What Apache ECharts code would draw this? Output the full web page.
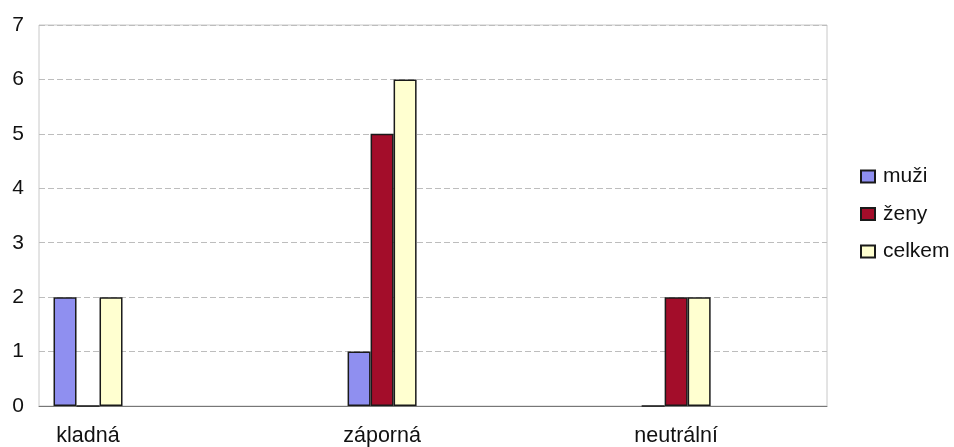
<!DOCTYPE html>
<html>
<head>
<meta charset="utf-8">
<script src="https://cdn.jsdelivr.net/npm/echarts@6/dist/echarts.min.js"></script>
<style>
  html, body { margin: 0; padding: 0; background: #fff; }
  #chart { width: 954px; height: 447px; }
</style>
</head>
<body>
<div id="chart"></div>
<script>
// Postoj respondentů podle pohlaví
const categories = ['kladná', 'záporná', 'neutrální'];
const seriesNames = ['muži', 'ženy', 'celkem'];
const muzi = [2, 1, 0];
const zeny = [0, 5, 2];
const celkem = [2, 6, 2];
const yTicks = [0, 1, 2, 3, 4, 5, 6, 7];

const colors = ['#8f8ff0', '#a30d2a', '#ffffd0'];
const font = 'Liberation Sans, Arial, sans-serif';

// bars sit on a numeric x scale: category i is drawn at x = i
function toPoints(values) {
  return values.map((v, i) => [i, v]);
}

const chart = echarts.init(document.getElementById('chart'));
chart.setOption({
  animation: false,
  backgroundColor: '#ffffff',
  grid: {
    left: 39, right: 127, top: 25, bottom: 41,
    show: true, borderColor: '#c8c8c8', borderWidth: 1
  },
  legend: {
    orient: 'vertical',
    left: 855, top: 161,
    itemWidth: 14, itemHeight: 12,
    itemGap: 16.5,
    icon: 'rect',
    textStyle: { fontFamily: font, fontSize: 21, color: '#111', lineHeight: 21, padding: [0, 0, 0, 3] },
    data: seriesNames
  },
  xAxis: {
    type: 'value',
    min: -0.1667,
    max: 2.513,
    splitLine: { show: false },
    axisLine: { show: true, lineStyle: { color: '#777', width: 1 } },
    axisTick: { show: false },
    axisLabel: {
      customValues: categories.map((c, i) => i),
      formatter: v => categories[Math.round(v)] || '',
      fontFamily: font, fontSize: 21.5, color: '#111', margin: 19
    }
  },
  yAxis: {
    type: 'value',
    min: yTicks[0],
    max: yTicks[yTicks.length - 1],
    interval: 1,
    axisLine: { show: false, onZero: false },
    axisTick: { show: false },
    axisLabel: { fontFamily: font, fontSize: 21, color: '#111', margin: 15 },
    splitLine: { show: true, lineStyle: { color: '#bdbdbd', type: [6, 3], width: 1 } }
  },
  series: [
    { name: seriesNames[0], data: toPoints(muzi) },
    { name: seriesNames[1], data: toPoints(zeny) },
    { name: seriesNames[2], data: toPoints(celkem) }
  ].map((s, i) => Object.assign({
    type: 'bar',
    barWidth: 23,
    barGap: '0%',
    itemStyle: { color: colors[i], borderColor: '#1a1a1a', borderWidth: 1.5 }
  }, s))
});
</script>
</body>
</html>
